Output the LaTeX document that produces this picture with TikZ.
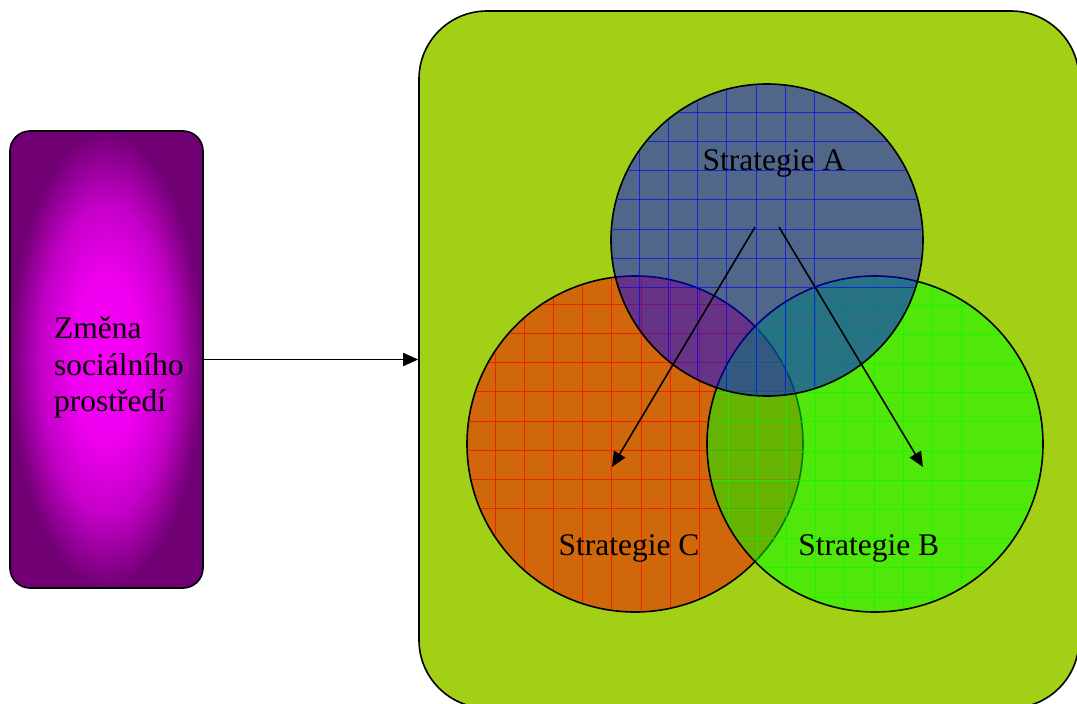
\documentclass[tikz,border=0pt]{standalone}
\usepackage{fontspec}
\setmainfont{Liberation Serif}
\usetikzlibrary{arrows.meta}

\definecolor{fieldgreen}{RGB}{162,208,22}
\definecolor{purpleedge}{RGB}{112,0,116}
\definecolor{purplemid}{RGB}{196,0,200}
\definecolor{purplecore}{RGB}{246,0,246}

% radial glow for the source box, brightest in the middle
\pgfdeclareradialshading{purpleglow}{\pgfpointorigin}{%
  color(0bp)=(purplecore); color(9bp)=(purplecore!85!purplemid);
  color(17bp)=(purplemid); color(25bp)=(purpleedge); color(50bp)=(purpleedge)}

\tikzset{
  boxline/.style={draw=black, line width=1.6pt, inner sep=0pt},
  stratcircle/.style={circle, draw=black, line width=1.6pt, fill opacity=0.5, inner sep=0pt, minimum size=#1},
  gridline/.style={line width=0.9pt, opacity=0.65},
  txt/.style={font=\fontsize{31.5}{36.7}\selectfont, inner sep=0pt},
  arrowlink/.style={line width=1.6pt, -{Triangle[length=15pt,width=13pt]}}
}

\begin{document}
\begin{tikzpicture}[x=1pt,y=-1pt]
\useasboundingbox (0,0) rectangle (1077,704);

% source box with a shaded purple fill
\node[boxline, rounded corners=20pt, minimum width=193pt, minimum height=457pt,
      shade, shading=purpleglow] (change) at (106.5,359.5) {};
\node[txt, align=left, anchor=base west] (changetext) at (54,411.7)
  {Změna\\sociálního\\prostředí};

% large green field holding the strategies
\node[boxline, rounded corners=68pt, minimum width=660pt, minimum height=697pt,
      fill=fieldgreen] (field) at (749,359.5) {};

% Strategie C (red, gridded)
\node[stratcircle=336pt, fill=red] (stratC) at (635,444) {};
\begin{scope}
  \clip (635,444) circle (166.8);
  \foreach \k in {-7,...,7} {
    \draw[gridline, red] (495+29.2*\k,270) -- (495+29.2*\k,620);
    \draw[gridline, red] (460,304.3+29.2*\k) -- (810,304.3+29.2*\k);
  }
\end{scope}

% Strategie B (green, gridded)
\node[stratcircle=336pt, fill=green] (stratB) at (875,444) {};
\begin{scope}
  \clip (875,444) circle (166.8);
  \foreach \k in {-7,...,7} {
    \draw[gridline, green] (757.3+29.2*\k,270) -- (757.3+29.2*\k,620);
    \draw[gridline, green] (700,392.7+29.2*\k) -- (1050,392.7+29.2*\k);
  }
\end{scope}

% Strategie A (blue, gridded), on top
\node[stratcircle=312pt, fill=blue] (stratA) at (767,240) {};
\begin{scope}
  \clip (767,240) circle (154.8);
  \foreach \k in {-6,...,6} {
    \draw[gridline, blue] (639.3+29.2*\k,80) -- (639.3+29.2*\k,400);
    \draw[gridline, blue] (600,112.3+29.2*\k) -- (930,112.3+29.2*\k);
  }
\end{scope}

% strategy labels
\node[txt, anchor=base] (labA) at (774,170.7) {Strategie A};
\node[txt, anchor=base] (labC) at (629,555) {Strategie C};
\node[txt, anchor=base] (labB) at (868.7,555) {Strategie B};

% arrows
\coordinate (fromA1) at (755,227);
\coordinate (toC) at (612,467);
\coordinate (fromA2) at (779,227);
\coordinate (toB) at (923,467);
\draw[arrowlink] (fromA1) -- (toC);
\draw[arrowlink] (fromA2) -- (toB);
\draw[arrowlink] (change.east) -- (field.west);
\end{tikzpicture}
\end{document}
